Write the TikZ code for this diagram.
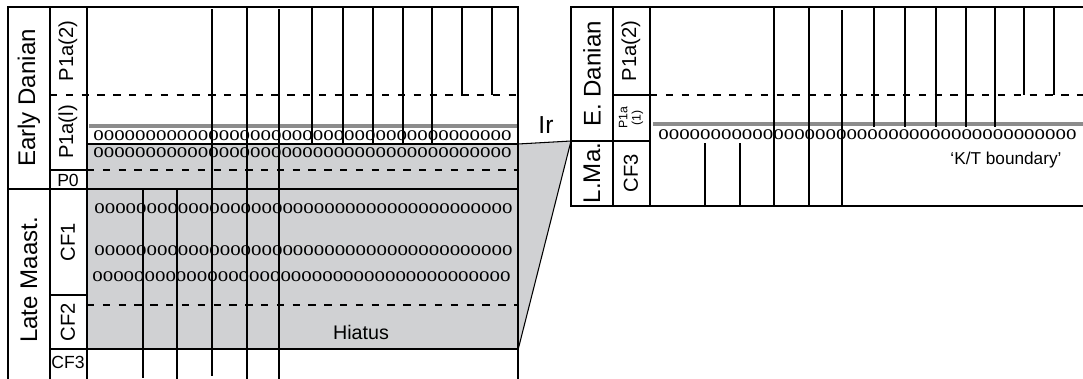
\documentclass[tikz,border=0pt]{standalone}
\usepackage{fontspec}
\setmainfont{Liberation Serif}
\setsansfont{Liberation Sans}
\usetikzlibrary{calc}

\definecolor{hiatusgrey}{RGB}{208,209,211}
\newcommand{\oorow}{oooooooooooooooooooooooooooooooooooooooo}

\begin{document}
\begin{tikzpicture}[
  x=0.02cm,y=-0.02cm,
  frame/.style={line width=0.95pt},
  core/.style={line width=0.8pt},
  zonebound/.style={line width=0.75pt,dash pattern=on 4.2pt off 4.8pt},
  ktline/.style={line width=2.3pt,draw=black!45},
  ooids/.style={font=\fontsize{11.9}{12}\selectfont,inner sep=0pt,anchor=west},
  agelab/.style={font=\sffamily\fontsize{13.7}{14}\selectfont,rotate=90,inner sep=0pt},
  zonelab/.style={font=\sffamily\fontsize{11.5}{12}\selectfont,rotate=90,inner sep=0pt},
  smalllab/.style={font=\sffamily\fontsize{10}{10}\selectfont,inner sep=0pt}
]
  \useasboundingbox (0,0) rectangle (1083,379);

  % hiatus (left section) and its wedge towards the right section
  \fill[hiatusgrey] (87,144) rectangle (518,350);
  \filldraw[fill=hiatusgrey,line width=0.6pt] (518,144) -- (571,141) -- (518,350);

  % ---- left section ----
  \draw[ktline] (89,126) -- (517,126);
  \foreach \y/\xs in {136/93,153/93,209/94,251/94,277/92}
    \node[ooids] at (\xs,\y) {\oorow};

  \draw[frame] (8,379) -- (8,7) -- (518,7) -- (518,379);
  \draw[frame] (50,7) -- (50,379);
  \draw[frame] (87,7) -- (87,379);
  \draw[zonebound] (50,95) -- (518,95);
  \draw[core] (87,144) -- (518,144);
  \draw[frame] (50,170) -- (87,170);
  \draw[zonebound] (87,170) -- (518,170);
  \draw[frame] (8,189) -- (518,189);
  \draw[frame] (50,295) -- (87,295);
  \draw[zonebound] (87,305) -- (518,305);
  \draw[frame] (50,349) -- (518,349);

  \foreach \x/\ya/\yb in {212/9/376,247/7/379,279/9/379,312/7/144,343/7/144,
      373/7/144,403/7/144,432/7/144,462/7/95,492/7/95,143/189/378,177/189/379}
    \draw[core] (\x,\ya) -- (\x,\yb);

  \node[agelab] (edan) at (29,98) {Early Danian};
  \node[agelab] (lmaas) at (29,280) {Late Maast.};
  \node[zonelab] (pa2) at (68,51) {P1a(2)};
  \node[zonelab] (pa1) at (68,132) {P1a(l)};
  \node[smalllab] (pzero) at (68,180) {P0};
  \node[zonelab] (cfone) at (68,242) {CF1};
  \node[zonelab] (cftwo) at (68,322) {CF2};
  \node[smalllab,anchor=west] (cfthree) at (51,362) {CF3};
  \node[font=\sffamily\fontsize{11.2}{12}\selectfont] (hiatus) at (361,332) {Hiatus};

  \node[font=\sffamily\fontsize{14}{14}\selectfont] (ir) at (546,125) {Ir};

  % ---- right section ----
  \draw[ktline] (653,124) -- (1083,124);
  \node[ooids] (ooR) at (658,135) {\oorow};

  \draw[frame] (1083,7) -- (571,7) -- (571,206) -- (1083,206);
  \draw[frame] (613,7) -- (613,206);
  \draw[frame] (650,7) -- (650,206);
  \draw[frame] (613,95) -- (650,95);
  \draw[zonebound] (650,95) -- (1083,95);
  \draw[frame] (571,141) -- (650,141);

  \foreach \x/\ya/\yb in {774/7/206,809/7/206,842/10/206,874/7/127,905/7/127,
      936/7/127,966/7/127,995/7/127,1024/7/95,1054/7/95,705/143/206,740/143/206}
    \draw[core] (\x,\ya) -- (\x,\yb);

  \node[agelab] (edanR) at (592,74) {E. Danian};
  \node[agelab] (lma) at (592,173) {L.Ma.};
  \node[zonelab] (pa2R) at (631,51) {P1a(2)};
  \node[font=\sffamily\fontsize{7}{7.5}\selectfont,rotate=90,align=center,inner sep=0pt]
    (pa1R) at (631,118) {P1a\\(1)};
  \node[zonelab] (cfthreeR) at (631,173) {CF3};
  \node[font=\sffamily\fontsize{9.8}{10}\selectfont] (kt) at (1006,160) {‘K/T boundary’};
\end{tikzpicture}
\end{document}
